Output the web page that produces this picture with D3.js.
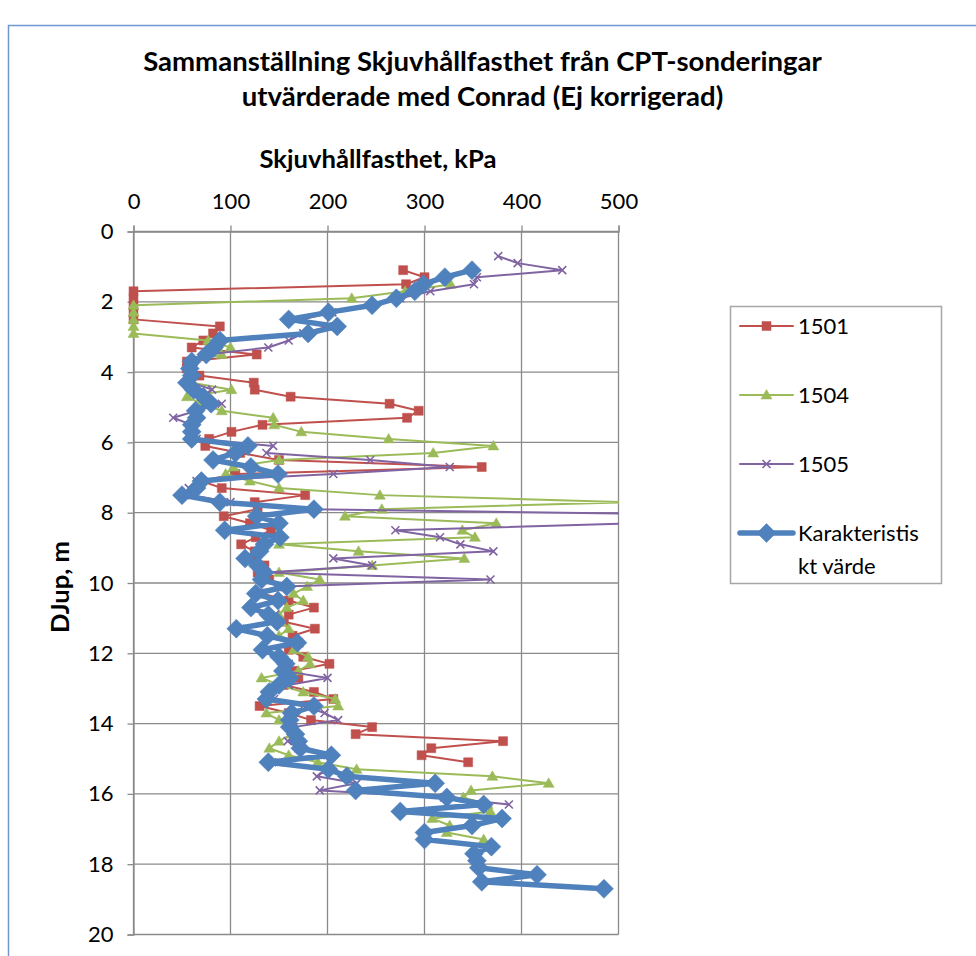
<!DOCTYPE html>
<html><head><meta charset="utf-8">
<script src="https://cdn.jsdelivr.net/npm/d3@7"></script>
<style>
body{margin:0;background:#fff}
svg{display:block}
text{font-family:Lato,"Open Sans",sans-serif;fill:#000}
</style>
</head><body>
<svg id="c" width="976" height="956"></svg>
<script>
// ---------- DATA ----------
const title1 = "Sammanställning Skjuvhållfasthet från CPT-sonderingar";
const title2 = "utvärderade med Conrad (Ej korrigerad)";
const xTitle = "Skjuvhållfasthet, kPa";
const yTitle = "DJup, m";
const xTicks = [0, 100, 200, 300, 400, 500];
const yTicks = [0, 2, 4, 6, 8, 10, 12, 14, 16, 18, 20];
const seriesNames = ["1501", "1504", "1505", "Karakteristiskt värde"];

const depth1501 = [1.1,1.3,1.5,1.7,1.9,2.1,2.3,2.5,2.7,2.9,3.1,3.3,3.5,3.7,3.9,4.1,4.3,4.5,4.7,4.9,5.1,5.3,5.5,5.7,5.9,6.1,6.3,6.5,6.7,6.9,7.1,7.3,7.5,7.7,7.9,8.1,8.3,8.5,8.7,8.9,9.1,9.3,9.5,9.7,9.9,10.1,10.3,10.5,10.7,10.9,11.1,11.3,11.5,11.7,11.9,12.1,12.3,12.5,12.7,12.9,13.1,13.3,13.5,13.7,13.9,14.1,14.3,14.5,14.7,14.9,15.1];
const kpa1501 = [278,300,281,0,0,0,0,0,89,82,72,60,127,55,55,68,124,125,162,264,294,282,133,101,78,74,110,150,359,105,70,91,177,125,128,93,120,142,126,111,125,126,135,128,140,150,132,160,186,160,155,187,164,170,160,175,202,165,170,155,186,206,130,160,183,246,229,381,307,297,345];

const depth1504 = [1.5,1.7,1.9,2.1,2.3,2.5,2.7,2.9,3.1,3.3,3.5,3.7,3.9,4.1,4.3,4.5,4.7,4.9,5.1,5.3,5.5,5.7,5.9,6.1,6.3,6.5,6.7,6.9,7.1,7.3,7.5,7.7,7.9,8.1,8.3,8.5,8.7,8.9,9.1,9.3,9.5,9.7,9.9,10.1,10.3,10.5,10.7,10.9,11.1,11.3,11.5,11.7,11.9,12.1,12.3,12.5,12.7,12.9,13.1,13.3,13.5,13.7,13.9,14.1,14.3,14.5,14.7,14.9,15.1,15.3,15.5,15.7,15.9,16.1,16.3,16.5,16.7,16.9,17.1,17.3];
const kpa1504 = [327,280,225,0,0,0,0,0,77,100,91,60,58,60,60,101,55,70,91,144,145,173,263,371,309,150,103,95,120,150,254,510,256,218,374,339,352,150,232,341,246,150,192,179,165,175,158,150,152,160,150,170,165,180,182,170,132,150,175,208,211,137,150,165,163,150,140,160,190,230,370,428,348,340,365,368,308,326,323,361];

const depth1505 = [0.7,0.9,1.1,1.3,1.5,1.7,1.9,2.1,2.3,2.5,2.7,2.9,3.1,3.3,3.5,3.7,3.9,4.1,4.3,4.5,4.7,4.9,5.1,5.3,5.5,5.7,5.9,6.1,6.3,6.5,6.7,6.9,7.1,7.3,7.5,7.7,7.9,8.1,8.3,8.5,8.7,8.9,9.1,9.3,9.5,9.7,9.9,10.1,10.3,10.5,10.7,10.9,11.1,11.3,11.5,11.7,11.9,12.1,12.3,12.5,12.7,12.9,13.1,13.3,13.5,13.7,13.9,14.1,14.3,14.5,14.7,14.9,15.1,15.3,15.5,15.7,15.9,16.1,16.3];
const kpa1505 = [376,396,442,354,351,306,275,245,205,175,200,175,160,139,75,62,58,62,60,81,70,91,65,41,60,62,65,144,137,244,326,206,65,57,60,100,185,700,520,270,316,337,371,206,246,137,368,156,130,150,125,146,150,110,140,165,140,150,160,155,200,160,140,145,175,197,211,165,168,159,170,200,150,200,189,230,192,320,387];

const depthKar = [1.1,1.3,1.5,1.7,1.9,2.1,2.3,2.5,2.7,2.9,3.1,3.3,3.5,3.7,3.9,4.1,4.3,4.5,4.7,4.9,5.1,5.3,5.5,5.7,5.9,6.1,6.3,6.5,6.7,6.9,7.1,7.3,7.5,7.7,7.9,8.1,8.3,8.5,8.7,8.9,9.1,9.3,9.5,9.7,9.9,10.1,10.3,10.5,10.7,10.9,11.1,11.3,11.5,11.7,11.9,12.1,12.3,12.5,12.7,12.9,13.1,13.3,13.5,13.7,13.9,14.1,14.3,14.5,14.7,14.9,15.1,15.3,15.5,15.7,15.9,16.1,16.3,16.5,16.7,16.9,17.1,17.3,17.5,17.7,17.9,18.1,18.3,18.5,18.7];
const kpaKar = [349,321,299,290,271,246,201,160,210,180,89,83,75,60,58,60,55,62,72,80,64,65,60,60,60,118,105,82,121,149,70,65,50,89,186,127,150,94,151,135,130,115,128,135,132,158,126,149,121,139,148,106,138,169,133,150,157,154,161,150,140,137,186,163,161,161,167,170,172,204,139,201,220,311,229,323,361,275,380,349,300,300,369,351,354,356,416,359,485];

// ---------- CHART ----------
const W = 976, H = 956;
const svg = d3.select('#c');
svg.append('rect').attr('width', W).attr('height', H).attr('fill', '#fff');
svg.append('path').attr('d', `M8.5,${H} V25.5 H${W}`)
  .attr('fill', 'none').attr('stroke', '#7096cf').attr('stroke-width', 1.5);

const x = d3.scaleLinear().domain([0, 500]).range([133.5, 618.5]);
const y = d3.scaleLinear().domain([0, 20]).range([231.5, 934.5]);
const gridCol = '#8a8a8a';

const fit = (t, target) => {
  const w = t.node().getComputedTextLength();
  const fs = parseFloat(t.attr('font-size'));
  t.attr('font-size', (fs * target / w).toFixed(2));
  return fs * target / w;
};

// gridlines
const g = svg.append('g');
g.selectAll('line.v').data(xTicks).join('line')
  .attr('x1', d => x(d)).attr('x2', d => x(d)).attr('y1', y(0)).attr('y2', y(20))
  .attr('stroke', gridCol).attr('stroke-width', 1.3);
g.selectAll('line.h').data(yTicks).join('line')
  .attr('x1', x(0)).attr('x2', x(500)).attr('y1', d => y(d)).attr('y2', d => y(d))
  .attr('stroke', gridCol).attr('stroke-width', 1.3);

// axes
const tickFont = 22;
const ax = svg.append('g').attr('transform', `translate(0,${y(0)})`)
  .call(d3.axisTop(x).tickValues(xTicks).tickSize(6).tickPadding(17).tickFormat(d3.format('d')));
const ay = svg.append('g').attr('transform', `translate(${x(0)},0)`)
  .call(d3.axisLeft(y).tickValues(yTicks).tickSize(6).tickPadding(14).tickFormat(d3.format('d')));
[ax, ay].forEach(a => {
  a.selectAll('path.domain').attr('stroke', gridCol).attr('stroke-width', 1.3);
  a.selectAll('.tick line').attr('stroke', gridCol).attr('stroke-width', 1.3);
  a.selectAll('.tick text').attr('font-size', tickFont).attr('font-family', 'Lato, sans-serif').attr('fill', '#000');
});

// titles
const t1 = svg.append('text').attr('x', 482.5).attr('y', 71).attr('text-anchor', 'middle')
  .attr('font-weight', 'bold').attr('font-size', 24).text(title1);
const tfs = fit(t1, 679);
svg.append('text').attr('x', 482.5).attr('y', 106).attr('text-anchor', 'middle')
  .attr('font-weight', 'bold').attr('font-size', tfs.toFixed(2)).text(title2);
const xt = svg.append('text').attr('x', 378).attr('y', 168).attr('text-anchor', 'middle')
  .attr('font-weight', 'bold').attr('font-size', 20).text(xTitle);
const afs = fit(xt, 237);
svg.append('text').attr('transform', `translate(69,587) rotate(-90)`).attr('text-anchor', 'middle')
  .attr('font-weight', 'bold').attr('font-size', afs.toFixed(2)).text(yTitle);

// clip
svg.append('clipPath').attr('id', 'clip').append('rect')
  .attr('x', 0).attr('y', 0).attr('width', x(500) + 0.5).attr('height', H);
const plot = svg.append('g').attr('clip-path', 'url(#clip)');

const sqPath = 'M-4.5,-4.5H4.5V4.5H-4.5Z';
const triPath = 'M0,-5.5L5.5,4L-5.5,4Z';
const xPath = 'M-4,-4L4,4M-4,4L4,-4';
const diaPath = 'M0,-9.5L9.5,0L0,9.5L-9.5,0Z';

const series = [
  {name: seriesNames[0], d: depth1501, v: kpa1501, color: '#C0504D', lw: 2, marker: sqPath, fill: true},
  {name: seriesNames[1], d: depth1504, v: kpa1504, color: '#9BBB59', lw: 2, marker: triPath, fill: true},
  {name: seriesNames[2], d: depth1505, v: kpa1505, color: '#8064A2', lw: 2, marker: xPath, fill: false},
  {name: seriesNames[3], d: depthKar, v: kpaKar, color: '#4F81BD', lw: 5.5, marker: diaPath, fill: true}
];
const line = d3.line().x(p => x(p[1])).y(p => y(p[0]));
series.forEach(s => {
  const pts = s.d.map((dd, i) => [dd, s.v[i]]);
  const sg = plot.append('g');
  sg.append('path').attr('d', line(pts)).attr('fill', 'none').attr('stroke', s.color)
    .attr('stroke-width', s.lw).attr('stroke-linejoin', 'round');
  sg.selectAll('path.m').data(pts).join('path').attr('class', 'm')
    .attr('transform', p => `translate(${x(p[1])},${y(p[0])})`)
    .attr('d', s.marker)
    .attr('fill', s.fill ? s.color : 'none')
    .attr('stroke', s.color).attr('stroke-width', s.fill ? 0.5 : 1.6);
});

// legend
const lg = svg.append('g');
lg.append('rect').attr('x', 730.5).attr('y', 306.5).attr('width', 211).attr('height', 277)
  .attr('fill', '#fff').attr('stroke', '#a6a6a6').attr('stroke-width', 1.5);
const ly = [326, 395, 464, 533];
series.forEach((s, i) => {
  lg.append('line').attr('x1', 740).attr('x2', 793).attr('y1', ly[i]).attr('y2', ly[i])
    .attr('stroke', s.color).attr('stroke-width', s.lw).attr('stroke-linecap', 'round');
  lg.append('path').attr('transform', `translate(766.5,${ly[i]})`).attr('d', s.marker)
    .attr('fill', s.fill ? s.color : 'none').attr('stroke', s.color).attr('stroke-width', s.fill ? 0.5 : 1.6);
});
const legLabels = [["1501"], ["1504"], ["1505"], ["Karakteristis", "kt värde"]];
legLabels.forEach((lines, i) => {
  lines.forEach((txt, j) => {
    lg.append('text').attr('x', 798).attr('y', ly[i] + 8 + j * 33).attr('font-size', 22).text(txt);
  });
});
</script>
</body></html>
